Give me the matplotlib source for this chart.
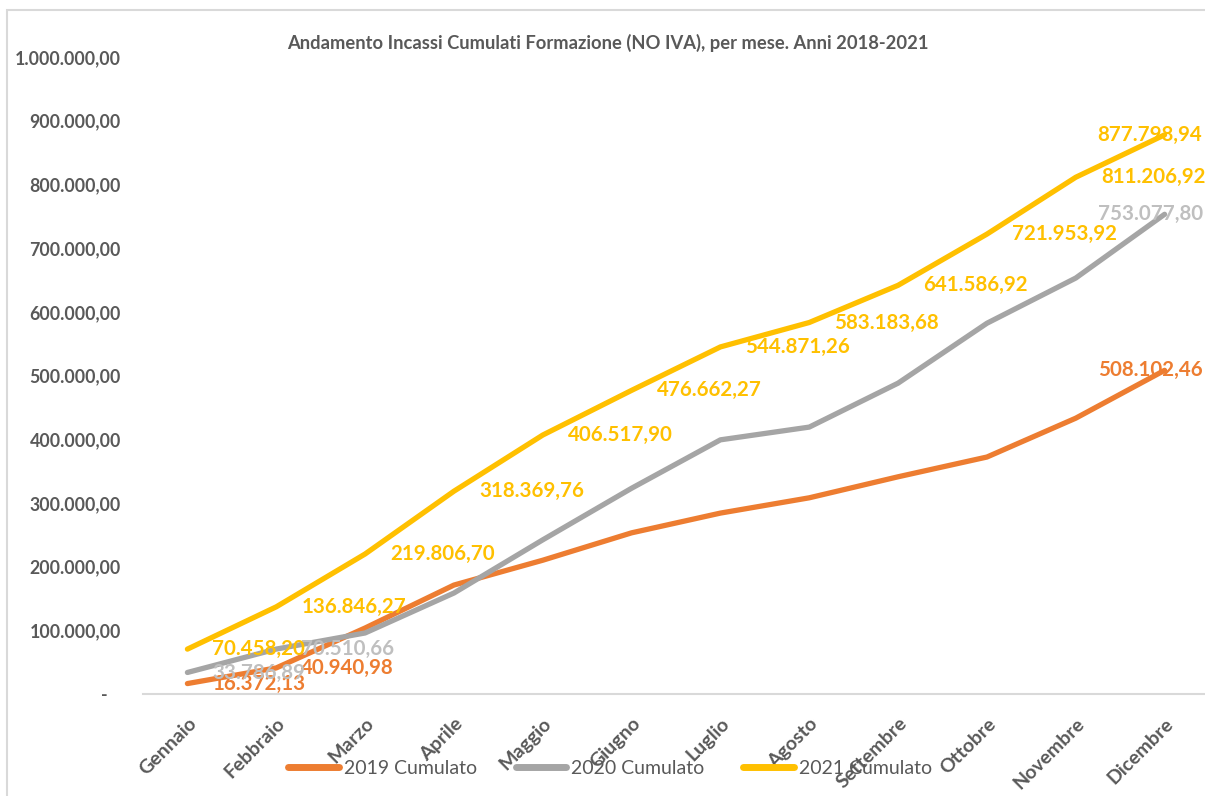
import matplotlib
matplotlib.use("Agg")
import matplotlib.pyplot as plt
from matplotlib.patches import Rectangle

months = ["Gennaio", "Febbraio", "Marzo", "Aprile", "Maggio", "Giugno",
          "Luglio", "Agosto", "Settembre", "Ottobre", "Novembre", "Dicembre"]

v2019 = [16372.13, 40940.98, 103600, 171000, 210000, 253000,
         284000, 308000, 341000, 372000, 433000, 508102.46]
v2020 = [33786.89, 70510.66, 95800, 158500, 242000, 323000,
         399000, 419000, 488000, 582000, 653000, 753077.80]
v2021 = [70458.20, 136846.27, 219806.70, 318369.76, 406517.90, 476662.27,
         544871.26, 583183.68, 641586.92, 721953.92, 811206.92, 877798.94]

# which points carry a data label
lab2019 = [0, 1, 11]
lab2020 = [0, 1, 11]
lab2021 = list(range(12))

yticks = [0, 100000, 200000, 300000, 400000, 500000, 600000, 700000,
          800000, 900000, 1000000]

title = "Andamento Incassi Cumulati Formazione (NO IVA), per mese. Anni 2018-2021"
names = ["2019 Cumulato", "2020 Cumulato", "2021 Cumulato"]
colors = ["#ED7D31", "#A5A5A5", "#FFC000"]
label_colors = ["#ED7D31", "#BFBFBF", "#FFC000"]

FONT = "Lato"
plt.rcParams['font.family'] = [FONT, 'DejaVu Sans']


def it_fmt(v):
    s = f"{v:,.2f}"
    return s.replace(",", "X").replace(".", ",").replace("X", ".")


W, H = 1205, 796
fig = plt.figure(figsize=(W / 100, H / 100), dpi=100)
fig.patch.set_facecolor("white")

# chart border
fig.patches.append(Rectangle((7 / W, -0.1), 1.2, 1 - 10 / H + 0.1,
                             transform=fig.transFigure, fill=False,
                             edgecolor="#D9D9D9", lw=1.5, zorder=0))

ax = fig.add_axes([143 / W, 1 - 694 / H, (1209 - 143) / W, (694 - 57) / H])
ax.set_facecolor("none")

x = list(range(len(months)))
series = [v2019, v2020, v2021]
labsets = [lab2019, lab2020, lab2021]
lines = []
for vals, c, n in zip(series, colors, names):
    ln, = ax.plot(x, vals, color=c, lw=3.8, solid_capstyle="round",
                  solid_joinstyle="round", label=n, zorder=3)
    lines.append(ln)

for vals, labs, lc in zip(series, labsets, label_colors):
    for i in labs:
        dx = 25 if i < len(months) - 1 else -67
        ax.annotate(it_fmt(vals[i]), xy=(i, vals[i]), xytext=(dx, 0),
                    textcoords="offset pixels", ha="left", va="center",
                    color=lc, fontsize=14.8, fontweight="bold",
                    annotation_clip=False, zorder=4)

ax.set_xlim(-0.5, len(months) - 0.5)
ax.set_ylim(0, 1000000)
ax.set_yticks(yticks)
ax.set_yticklabels(["-   " if t == 0 else it_fmt(t) for t in yticks])
ax.set_xticks(x)
ax.set_xticklabels(months, rotation=45, ha="right", rotation_mode="anchor")

for s in ["top", "right", "left"]:
    ax.spines[s].set_visible(False)
ax.spines["bottom"].set_color("#D9D9D9")
ax.spines["bottom"].set_linewidth(1.5)
ax.tick_params(axis="y", length=0, pad=16, labelsize=12.8, labelcolor="#595959")
ax.tick_params(axis="x", length=0, pad=15, labelsize=14, labelcolor="#595959")
for t in ax.get_yticklabels() + ax.get_xticklabels():
    t.set_fontweight("bold")

fig.text(608 / W, 1 - 43 / H, title, ha="center", va="center",
         fontsize=13.2, fontweight="bold", color="#595959")

leg = fig.legend(handles=lines, labels=names, loc="center",
                 bbox_to_anchor=(610 / W, 1 - 768 / H), ncol=3, frameon=False,
                 fontsize=14, handlelength=2.6, handletextpad=0.25,
                 columnspacing=2.0, labelcolor="#595959")
for h in leg.legend_handles:
    h.set_linewidth(5)
leg.set_zorder(10)

fig.savefig("out.png", dpi=100)
